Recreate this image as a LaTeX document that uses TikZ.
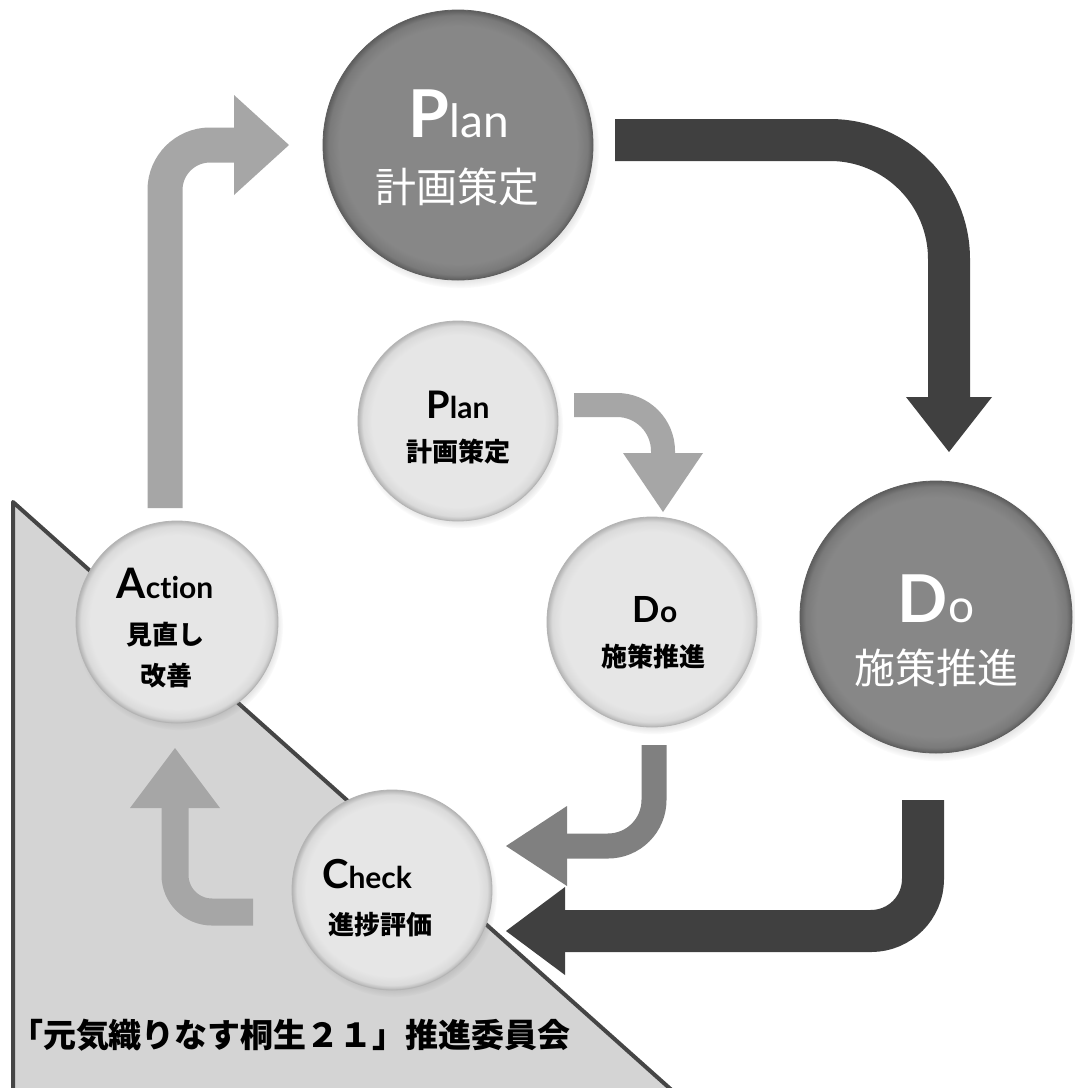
\documentclass[tikz,border=0pt]{standalone}
\usepackage{fontspec}
\newfontfamily\jp{Noto Sans CJK JP}
\newfontfamily\lat[Ligatures=NoCommon]{Lato}
\usetikzlibrary{shadows,calc}
\definecolor{darkarrow}{HTML}{404040}
\definecolor{lightarrow}{HTML}{A6A6A6}
\definecolor{midarrow}{HTML}{808080}
\definecolor{trifill}{HTML}{D4D4D4}
\definecolor{triedge}{HTML}{454545}
\definecolor{lightball}{HTML}{E6E6E6}
\definecolor{lightmid}{HTML}{DADADA}
\definecolor{lightrim}{HTML}{B4B4B4}
\definecolor{darkball}{HTML}{878787}
\definecolor{darkmid}{HTML}{7A7A7A}
\definecolor{darkrim}{HTML}{5E5E5E}
\pgfdeclareradialshading{lightbevel}{\pgfpoint{0bp}{0bp}}{%
  color(0bp)=(lightball); color(21.5bp)=(lightball); color(23.8bp)=(lightmid); color(25bp)=(lightrim); color(50bp)=(lightrim)}
\pgfdeclareradialshading{darkbevel}{\pgfpoint{0bp}{0bp}}{%
  color(0bp)=(darkball); color(22bp)=(darkball); color(24bp)=(darkmid); color(25bp)=(darkrim); color(50bp)=(darkrim)}
\begin{document}
\begin{tikzpicture}[x=1pt,y=-1pt,
  ballL/.style={circle, inner sep=0pt, minimum size=#1, shading=lightbevel, draw=lightrim, line width=0.8pt,
    circular drop shadow={shadow xshift=2pt, shadow yshift=-4pt, shadow scale=1.03, opacity=0.45}},
  ballD/.style={circle, inner sep=0pt, minimum size=#1, shading=darkbevel, draw=darkrim, line width=0.8pt,
    circular drop shadow={shadow xshift=2pt, shadow yshift=-4pt, shadow scale=1.03, opacity=0.5}},
  txt/.style={inner sep=0pt, outer sep=0pt},
  bigcap/.style={txt, anchor=base, text=white, font=\lat},
  smallcap/.style={txt, anchor=base, text=black, font=\lat\bfseries},
  bigjp/.style={txt, text=white, font=\jp\fontsize{41}{41}\selectfont},
  smalljp/.style={txt, text=black, font=\jp\bfseries\fontsize{26}{26}\selectfont},
]
\useasboundingbox (0,0) rectangle (1075,1088);
\fill[white] (0,0) rectangle (1075,1088);

% committee triangle
\begin{scope}
\clip (0,0) rectangle (1075,1088);
\filldraw[fill=trifill, draw=triedge, line width=4pt, line join=round]
  (13,1110) -- (13,502) -- (694,1110);
\end{scope}
\node[txt, anchor=west, font=\jp\bfseries\fontsize{33}{33}\selectfont] (committee) at (10,1035)
  {「元気織りなす桐生２１」推進委員会};

% circles
\node[ballD=270pt] (bigP) at (458,145) {};
\node[ballD=272pt] (bigD) at (936,617) {};
\node[ballL=200pt] (smP) at (458,421) {};
\node[ballL=210pt] (smD) at (652,622) {};
\node[ballL=202pt] (act) at (177,622) {};
\node[ballL=200pt] (chk) at (392,890) {};

% coordinates of connectors
\coordinate (a1s) at (615,140); \coordinate (a1c) at (949,140); \coordinate (a1e) at (949,397); \coordinate (a1t) at (949,452);
\coordinate (a2s) at (923,800); \coordinate (a2c) at (923,931); \coordinate (a2e) at (565,931); \coordinate (a2t) at (506,931);
\coordinate (a3s) at (574,405); \coordinate (a3c) at (663,405); \coordinate (a3e) at (663,453); \coordinate (a3t) at (663,512);
\coordinate (a4s) at (654,745); \coordinate (a4c) at (654,846); \coordinate (a4e) at (567,846); \coordinate (a4t) at (506,846);
\coordinate (a5s) at (253,912); \coordinate (a5c) at (175,912); \coordinate (a5e) at (175,808); \coordinate (a5t) at (175,748);
\coordinate (a6s) at (165,508); \coordinate (a6c) at (165,145); \coordinate (a6e) at (234,145); \coordinate (a6t) at (289,145);

% big Plan -> big Do
\draw[darkarrow, line width=42pt, rounded corners=119pt] (a1s) -- (a1c) -- (a1e);
\fill[darkarrow] ($(a1e)+(-43,0)$) -- ($(a1e)+(43,0)$) -- (a1t) -- cycle;
% big Do -> Check
\draw[darkarrow, line width=42pt, rounded corners=52pt] (a2s) -- (a2c) -- (a2e);
\fill[darkarrow] ($(a2e)+(0,-44)$) -- ($(a2e)+(0,44)$) -- (a2t) -- cycle;
% small Plan -> small Do
\draw[lightarrow, line width=24pt, rounded corners=46pt] (a3s) -- (a3c) -- (a3e);
\fill[lightarrow] ($(a3e)+(-40,0)$) -- ($(a3e)+(40,0)$) -- (a3t) -- cycle;
% small Do -> Check
\draw[midarrow, line width=25pt, rounded corners=46pt] (a4s) -- (a4c) -- (a4e);
\fill[midarrow] ($(a4e)+(0,-40)$) -- ($(a4e)+(0,40)$) -- (a4t) -- cycle;
% Check -> Action
\draw[lightarrow, line width=27pt, rounded corners=37pt] (a5s) -- (a5c) -- (a5e);
\fill[lightarrow] ($(a5e)+(-45,0)$) -- ($(a5e)+(45,0)$) -- (a5t) -- cycle;
% Action -> big Plan
\draw[lightarrow, line width=35pt, rounded corners=45pt] (a6s) -- (a6c) -- (a6e);
\fill[lightarrow] ($(a6e)+(0,-50)$) -- ($(a6e)+(0,50)$) -- (a6t) -- cycle;

% texts
\node[bigcap] (bigPt) at (459,137) {\fontsize{66}{66}\selectfont\bfseries P\fontsize{46}{46}\selectfont\mdseries lan};
\node[bigjp] (bigPj) at (457,187) {計画策定};
\node[bigcap] (bigDt) at (936,622) {\fontsize{66}{66}\selectfont\bfseries D\fontsize{46}{46}\selectfont\mdseries o};
\node[bigjp] (bigDj) at (936,668) {施策推進};

\node[smallcap] (smPt) at (458,418) {\fontsize{38}{38}\selectfont P\fontsize{30}{30}\selectfont lan};
\node[smalljp] (smPj) at (458,452) {計画策定};
\node[smallcap] (smDt) at (655,622) {\fontsize{36}{36}\selectfont D\fontsize{30}{30}\selectfont o};
\node[smalljp] (smDj) at (653,657) {施策推進};

\node[smallcap] (actt) at (165,598) {\fontsize{42}{42}\selectfont A\fontsize{30}{30}\selectfont ction};
\node[smalljp] (actj1) at (165,635) {見直し};
\node[smalljp] (actj2) at (166,676) {改善};

\node[smallcap] (chkt) at (367,888) {\fontsize{40}{40}\selectfont C\fontsize{30}{30}\selectfont heck};
\node[smalljp] (chkj) at (380,925) {進捗評価};
\end{tikzpicture}
\end{document}
